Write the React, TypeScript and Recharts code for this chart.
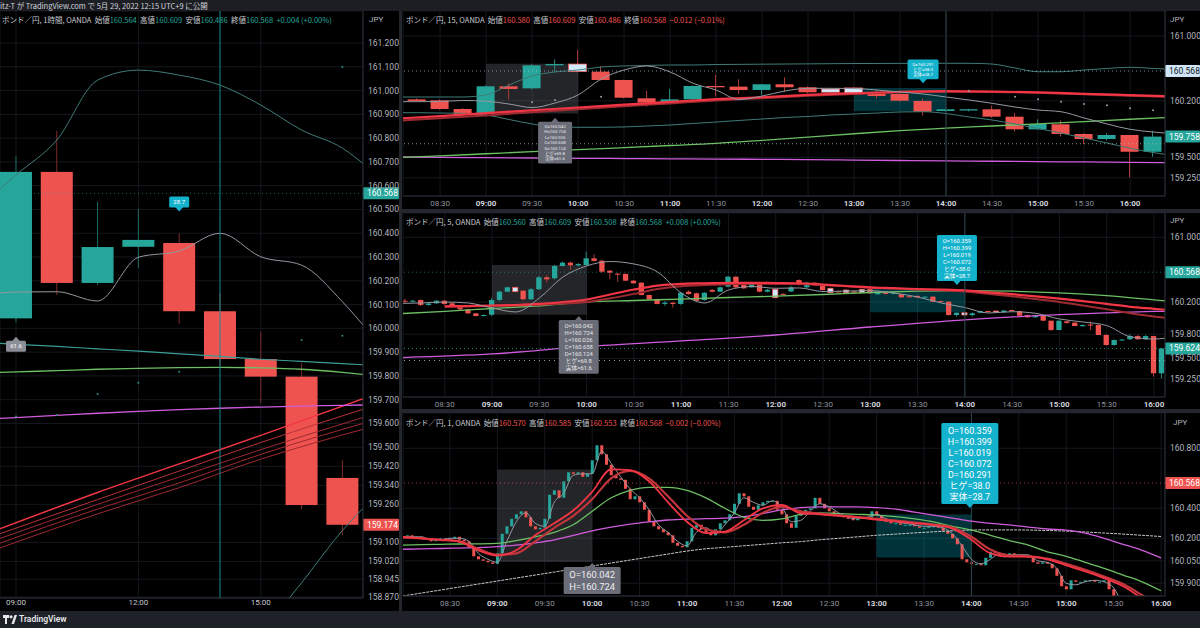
import React from 'react';
import {
  ComposedChart, Bar, Line, Scatter, XAxis, YAxis, CartesianGrid,
  ReferenceLine, ReferenceArea, ReferenceDot,
} from 'recharts';

const FONT = 'Roboto, "Noto Sans", "Noto Sans CJK JP", sans-serif';
const JFONT = '"Noto Sans CJK JP", Roboto, sans-serif';
const TEAL = '#26a69a';
const RED = '#ef5350';
const LIGHT = '#d4e9fb';
const GRID = '#14171d';
const AXIS = '#2a2e39';
const TXT = '#b2b5be';
const GRAYLINE = '#9598a1';
const BAND = '#3f7c77';
const GREEN = '#6cbf63';
const MAGENTA = '#cf5cdc';
const EMARED = '#f23645';
const EMARED2 = '#9e2a31';

const toMin = (s: string) => { const [h, m] = s.split(':').map(Number); return h * 60 + m; };
const seq = (start: string, step: number, n: number) => Array.from({ length: n }, (_, i) => toMin(start) + i * step);
const fmtMin = (m: number) => `${String(Math.floor(m / 60)).padStart(2, '0')}:${String(Math.round(m % 60)).padStart(2, '0')}`;

// ================= LEFT PANEL : 1 hour =================
const hourL = [9, 10, 11, 12, 13, 14, 15, 16, 17];
const openL = [160.042, 160.658, 160.191, 160.343, 160.359, 160.072, 159.871, 159.797, 159.371];
const highL = [160.724, 160.83, 160.533, 160.502, 160.399, 160.147, 159.986, 159.856, 159.446];
const lowL = [160.026, 160.14, 160.182, 160.254, 160.019, 159.839, 159.685, 159.24, 159.131];
const closeL = [160.658, 160.191, 160.342, 160.372, 160.072, 159.871, 159.797, 159.257, 159.174];

const lineHL = [8.5, 9, 10, 11, 12, 13, 14, 15, 16, 17, 17.6];
const grayL = [160.147, 160.153, 160.154, 160.115, 160.299, 160.325, 160.4, 160.301, 160.266, 160.112, 159.995];
const upperL = [160.57, 160.645, 160.792, 161.044, 161.086, 161.065, 161.023, 160.939, 160.834, 160.758, 160.68];
const emaL = [159.938, 159.933, 159.924, 159.914, 159.904, 159.893, 159.882, 159.87, 159.861, 159.852, 159.846];
const greenL = [159.814, 159.817, 159.822, 159.828, 159.832, 159.835, 159.836, 159.834, 159.828, 159.815, 159.805];
const magentaL = [159.62, 159.625, 159.634, 159.643, 159.651, 159.658, 159.664, 159.669, 159.673, 159.676, 159.678];
const lowerHL = [15, 16, 17, 17.6];
const lowerL = [158.72, 158.93, 159.15, 159.26];
const fanHL = [8.5, 11, 13, 15, 17.6];
const fan1 = [159.15, 159.31, 159.43, 159.55, 159.71];
const fan2 = [159.13, 159.28, 159.4, 159.52, 159.665];
const fan3 = [159.11, 159.26, 159.375, 159.49, 159.63];
const fan4 = [159.09, 159.24, 159.35, 159.47, 159.605];
const fan5 = [159.07, 159.22, 159.33, 159.45, 159.58];
const dotHL = [9, 10, 11, 12, 13, 16, 17, 17];
const dotPL = [159.629, 159.636, 159.724, 159.771, 159.818, 159.951, 159.969, 161.099];
const ticksL = [161.2, 161.1, 161.0, 160.9, 160.8, 160.7, 160.6, 160.5, 160.4, 160.3, 160.2, 160.1, 160.0, 159.9, 159.8, 159.7, 159.6, 159.5, 159.42, 159.34, 159.26, 159.1, 159.02, 158.945, 158.87];
const timeTicksL = [9, 12, 15];

// ================= PANEL A : 15 min =================
const tA = seq('08:15', 15, 33);
const openA = [160.218, 160.206, 160.099, 160.041, 160.379, 160.354, 160.638, 160.654, 160.56, 160.457, 160.231, 160.177, 160.218, 160.383, 160.375, 160.333, 160.404, 160.367, 160.346, 160.359, 160.3, 160.284, 160.198, 160.074, 160.08, 160.095, 160.004, 159.848, 159.91, 159.79, 159.728, 159.778, 159.571];
const highA = [160.23, 160.22, 160.11, 160.39, 160.416, 160.65, 160.712, 160.827, 160.63, 160.46, 160.325, 160.346, 160.39, 160.519, 160.465, 160.41, 160.49, 160.38, 160.36, 160.37, 160.34, 160.29, 160.23, 160.1, 160.1, 160.14, 160.05, 159.97, 159.96, 159.8, 159.8, 159.78, 159.83];
const lowA = [160.19, 160.09, 160.01, 160.03, 160.218, 160.34, 160.559, 160.55, 160.45, 160.23, 160.127, 160.17, 160.21, 160.251, 160.284, 160.27, 160.312, 160.29, 160.3, 160.28, 160.23, 160.19, 160.019, 160.06, 160.07, 159.99, 159.82, 159.84, 159.76, 159.667, 159.71, 159.256, 159.51];
const closeA = [160.197, 160.099, 160.037, 160.379, 160.346, 160.638, 160.654, 160.56, 160.457, 160.238, 160.177, 160.218, 160.383, 160.367, 160.333, 160.404, 160.367, 160.305, 160.305, 160.293, 160.259, 160.201, 160.065, 160.095, 160.096, 160.004, 159.848, 159.914, 159.79, 159.728, 159.778, 159.571, 159.758];
const lightA = [7, 18, 19];
const t15A = seq('08:00', 15, 35);
const grayA = [160.189, 160.189, 160.191, 160.204, 160.195, 160.16, 160.117, 160.173, 160.272, 160.469, 160.58, 160.63, 160.556, 160.416, 160.333, 160.216, 160.259, 160.321, 160.354, 160.354, 160.352, 160.333, 160.309, 160.284, 160.247, 160.21, 160.169, 160.123, 160.086, 160.065, 159.988, 159.914, 159.848, 159.815, 159.79];
const upperA = [160.247, 160.247, 160.247, 160.247, 160.272, 160.395, 160.506, 160.556, 160.58, 160.617, 160.63, 160.636, 160.642, 160.642, 160.648, 160.65, 160.652, 160.654, 160.656, 160.658, 160.66, 160.661, 160.662, 160.663, 160.663, 160.663, 160.654, 160.605, 160.559, 160.559, 160.58, 160.599, 160.614, 160.6, 160.586];
const lowerA = [160.053, 160.053, 160.049, 160.046, 160.025, 159.969, 159.914, 159.877, 159.873, 159.873, 159.877, 159.889, 159.901, 159.92, 159.938, 159.957, 159.975, 159.994, 160.006, 160.025, 160.037, 160.049, 160.062, 160.065, 160.043, 160.0, 159.963, 159.914, 159.858, 159.802, 159.741, 159.679, 159.614, 159.562, 159.519];
const t30A = seq('08:00', 30, 18);
const redA = [159.978, 160.012, 160.047, 160.083, 160.117, 160.152, 160.186, 160.22, 160.244, 160.273, 160.293, 160.312, 160.319, 160.315, 160.304, 160.286, 160.27, 160.254];
const redA2 = [159.95, 159.985, 160.02, 160.058, 160.095, 160.132, 160.168, 160.205, 160.232, 160.262, 160.284, 160.305, 160.313, 160.31, 160.298, 160.28, 160.263, 160.246];
const greenA = [159.496, 159.52, 159.546, 159.572, 159.596, 159.622, 159.648, 159.674, 159.712, 159.752, 159.793, 159.832, 159.862, 159.889, 159.916, 159.944, 159.972, 159.998];
const magentaA = [159.507, 159.502, 159.498, 159.494, 159.49, 159.487, 159.484, 159.481, 159.477, 159.473, 159.468, 159.463, 159.458, 159.454, 159.449, 159.445, 159.44, 159.436];
const dotTA = ['09:30', '09:45', '10:15', '14:15', '14:45', '15:00', '15:15', '15:30', '15:45', '16:00', '16:15'];
const dotPA = [160.181, 160.21, 160.25, 160.325, 160.251, 160.219, 160.189, 160.16, 160.144, 160.107, 160.083];
const ticksA = [161.0, 160.2, 159.5, 159.25];

// ================= PANEL B : 5 min =================
const tB = seq('08:05', 5, 97);
const openB = [160.215, 160.205, 160.224, 160.162, 160.183, 160.215, 160.183, 160.15, 160.109, 160.059, 160.026, 160.042, 160.224, 160.327, 160.381, 160.339, 160.233, 160.357, 160.505, 160.493, 160.645, 160.686, 160.654, 160.657, 160.74, 160.71, 160.587, 160.55, 160.546, 160.463, 160.438, 160.286, 160.233, 160.175, 160.19, 160.175, 160.327, 160.307, 160.224, 160.348, 160.327, 160.389, 160.512, 160.41, 160.381, 160.438, 160.327, 160.357, 160.3, 160.33, 160.47, 160.381, 160.438, 160.397, 160.369, 160.33, 160.348, 160.33, 160.357, 160.359, 160.295, 160.32, 160.3, 160.295, 160.27, 160.275, 160.26, 160.265, 160.21, 160.203, 160.038, 160.067, 160.038, 160.067, 160.088, 160.088, 160.075, 160.1, 160.088, 160.038, 160.01, 160.026, 159.968, 159.853, 159.96, 159.943, 159.9, 159.92, 159.915, 159.791, 159.667, 159.729, 159.738, 159.778, 159.738, 159.778, 159.317];
const highB = [160.24, 160.225, 160.23, 160.19, 160.22, 160.225, 160.19, 160.16, 160.115, 160.065, 160.045, 160.25, 160.34, 160.39, 160.39, 160.35, 160.37, 160.52, 160.53, 160.66, 160.7, 160.7, 160.68, 160.822, 160.79, 160.72, 160.595, 160.56, 160.555, 160.47, 160.445, 160.29, 160.24, 160.21, 160.2, 160.32, 160.345, 160.315, 160.32, 160.36, 160.39, 160.52, 160.52, 160.42, 160.44, 160.445, 160.36, 160.37, 160.31, 160.4, 160.48, 160.45, 160.445, 160.4, 160.375, 160.34, 160.355, 160.34, 160.36, 160.375, 160.33, 160.325, 160.32, 160.3, 160.275, 160.28, 160.27, 160.27, 160.22, 160.21, 160.07, 160.07, 160.07, 160.09, 160.09, 160.09, 160.1, 160.105, 160.09, 160.04, 160.04, 160.03, 159.97, 159.97, 159.965, 159.95, 159.92, 159.96, 159.92, 159.8, 159.735, 159.74, 159.8, 159.79, 159.79, 159.78, 159.63];
const lowB = [160.19, 160.195, 160.15, 160.155, 160.175, 160.165, 160.14, 160.1, 160.05, 160.02, 160.02, 160.026, 160.21, 160.32, 160.32, 160.22, 160.225, 160.35, 160.44, 160.48, 160.64, 160.6, 160.64, 160.65, 160.7, 160.56, 160.48, 160.45, 160.46, 160.425, 160.28, 160.225, 160.17, 160.15, 160.13, 160.165, 160.29, 160.21, 160.215, 160.32, 160.32, 160.38, 160.37, 160.36, 160.375, 160.32, 160.32, 160.245, 160.28, 160.32, 160.4, 160.37, 160.4, 160.34, 160.31, 160.32, 160.31, 160.31, 160.31, 160.3, 160.29, 160.29, 160.295, 160.25, 160.255, 160.25, 160.25, 160.2, 160.2, 160.03, 160.019, 160.03, 160.02, 160.06, 160.07, 160.07, 160.07, 160.085, 160.025, 160.005, 160.005, 159.96, 159.84, 159.85, 159.93, 159.9, 159.895, 159.85, 159.79, 159.66, 159.66, 159.72, 159.73, 159.73, 159.73, 159.275, 159.255];
const closeB = [160.205, 160.215, 160.162, 160.18, 160.215, 160.174, 160.15, 160.109, 160.059, 160.026, 160.038, 160.224, 160.327, 160.381, 160.327, 160.233, 160.357, 160.505, 160.48, 160.645, 160.686, 160.654, 160.67, 160.74, 160.707, 160.574, 160.562, 160.545, 160.463, 160.431, 160.286, 160.233, 160.175, 160.19, 160.175, 160.314, 160.298, 160.215, 160.314, 160.327, 160.381, 160.512, 160.381, 160.369, 160.431, 160.327, 160.35, 160.252, 160.29, 160.38, 160.41, 160.438, 160.406, 160.348, 160.314, 160.325, 160.314, 160.315, 160.314, 160.307, 160.327, 160.3, 160.315, 160.257, 160.26, 160.257, 160.265, 160.203, 160.205, 160.038, 160.067, 160.038, 160.059, 160.088, 160.075, 160.075, 160.093, 160.09, 160.03, 160.01, 160.035, 159.968, 159.853, 159.968, 159.94, 159.902, 159.915, 159.91, 159.791, 159.667, 159.729, 159.735, 159.778, 159.738, 159.778, 159.317, 159.624];
const lightB = [14, 47, 54, 56, 58, 71, 75];
const t15B = seq('08:00', 15, 34);
const grayB = [160.181, 160.187, 160.199, 160.187, 160.125, 160.076, 160.249, 160.509, 160.645, 160.7, 160.67, 160.571, 160.311, 160.187, 160.348, 160.391, 160.369, 160.373, 160.329, 160.335, 160.339, 160.311, 160.261, 160.187, 160.131, 160.063, 160.079, 160.059, 159.989, 159.952, 159.908, 159.77, 159.741, 159.778];
const tRedB = seq('08:30', 15, 32);
const redB = [160.144, 160.15, 160.156, 160.162, 160.175, 160.199, 160.23, 160.292, 160.354, 160.403, 160.424, 160.431, 160.437, 160.437, 160.434, 160.431, 160.415, 160.397, 160.38, 160.37, 160.36, 160.353, 160.342, 160.318, 160.296, 160.27, 160.24, 160.21, 160.175, 160.14, 160.115, 160.09];
const redB2 = [160.14, 160.145, 160.15, 160.155, 160.165, 160.18, 160.2, 160.245, 160.3, 160.36, 160.395, 160.41, 160.42, 160.425, 160.425, 160.422, 160.41, 160.393, 160.377, 160.366, 160.355, 160.345, 160.33, 160.3, 160.27, 160.235, 160.2, 160.155, 160.11, 160.06, 160.02, 159.985];
const t30B = seq('08:00', 30, 18);
const greenB = [160.053, 160.084, 160.119, 160.153, 160.199, 160.218, 160.236, 160.255, 160.271, 160.292, 160.317, 160.333, 160.34, 160.333, 160.313, 160.278, 160.226, 160.17];
const t60B = seq('08:00', 60, 10);
const magentaB = [159.51, 159.556, 159.649, 159.717, 159.791, 159.89, 159.979, 160.042, 160.082, 160.1];
const ticksB = [161.0, 160.2, 159.8, 159.5, 159.25];

// ================= PANEL C : 1 min (read every 3 min) =================
const tC = seq('08:00', 3, 161);
const firstOpenC = 160.21;
const closeC = [
  160.21, 160.22, 160.2, 160.21, 160.2, 160.19, 160.18, 160.19, 160.2, 160.19, 160.2, 160.21, 160.19, 160.18, 160.14, 160.08, 160.06, 160.05, 160.04, 160.03,
  160.1, 160.23, 160.28, 160.33, 160.36, 160.38, 160.34, 160.28, 160.26, 160.27, 160.33, 160.49, 160.52, 160.47, 160.58, 160.64, 160.63, 160.64, 160.61, 160.63,
  160.72, 160.82, 160.76, 160.69, 160.62, 160.6, 160.59, 160.53, 160.46, 160.48, 160.44, 160.39, 160.31, 160.28, 160.26, 160.24, 160.22, 160.17, 160.15, 160.14,
  160.18, 160.27, 160.29, 160.26, 160.24, 160.22, 160.26, 160.3, 160.32, 160.36, 160.43, 160.5, 160.48, 160.41, 160.39, 160.42, 160.44, 160.45, 160.45, 160.39,
  160.36, 160.3, 160.27, 160.35, 160.37, 160.39, 160.4, 160.47, 160.43, 160.4, 160.38, 160.36, 160.35, 160.34, 160.33, 160.32, 160.33, 160.34, 160.34, 160.38,
  160.35, 160.33, 160.31, 160.3, 160.3, 160.29, 160.29, 160.29, 160.28, 160.27, 160.27, 160.28, 160.28, 160.27, 160.25, 160.23, 160.2, 160.16, 160.06, 160.04,
  160.03, 160.03, 160.02, 160.07, 160.11, 160.1, 160.08, 160.08, 160.1, 160.09, 160.09, 160.08, 160.08, 160.04, 160.03, 160.04, 160.03, 160.0, 159.95, 159.88,
  159.86, 159.92, 159.91, 159.91, 159.92, 159.92, 159.91, 159.91, 159.92, 159.86, 159.8, 159.7, 159.68, 159.73, 159.74, 159.76, 159.78, 159.75, 159.76, 159.7,
  159.45,
];
const t6C = seq('08:00', 6, 81);
const grayC = [
  160.21, 160.21, 160.21, 160.19, 160.19, 160.2, 160.2, 160.18, 160.1, 160.06,
  160.04, 160.18, 160.31, 160.37, 160.3, 160.28, 160.44, 160.5, 160.62, 160.63,
  160.63, 160.78, 160.7, 160.61, 160.53, 160.47, 160.39, 160.29, 160.24, 160.18,
  160.15, 160.24, 160.27, 160.23, 160.29, 160.37, 160.47, 160.44, 160.42, 160.45,
  160.41, 160.31, 160.32, 160.38, 160.43, 160.41, 160.37, 160.34, 160.33, 160.34,
  160.36, 160.33, 160.31, 160.3, 160.29, 160.28, 160.28, 160.27, 160.23, 160.15,
  160.06, 160.03, 160.06, 160.1, 160.09, 160.09, 160.09, 160.05, 160.04, 160.0,
  159.9, 159.89, 159.91, 159.92, 159.91, 159.87, 159.76, 159.72, 159.76, 159.77,
  159.7,
];
const t12C = seq('08:00', 12, 41);
const redC = [160.21, 160.2, 160.19, 160.177, 160.12, 160.085, 160.12, 160.22, 160.3, 160.385, 160.51, 160.66, 160.655, 160.58, 160.44, 160.31, 160.235, 160.245, 160.32, 160.4, 160.422, 160.367, 160.36, 160.35, 160.34, 160.325, 160.313, 160.3, 160.288, 160.265, 160.19, 160.1, 160.078, 160.078, 160.06, 160.02, 159.98, 159.935, 159.88, 159.8, 159.72];
const redC2 = [160.205, 160.2, 160.19, 160.18, 160.13, 160.09, 160.1, 160.18, 160.27, 160.35, 160.46, 160.6, 160.65, 160.6, 160.48, 160.35, 160.26, 160.24, 160.29, 160.37, 160.41, 160.38, 160.365, 160.352, 160.342, 160.33, 160.318, 160.305, 160.292, 160.272, 160.21, 160.125, 160.085, 160.08, 160.065, 160.03, 159.99, 159.945, 159.895, 159.82, 159.74];
const greenC = [160.155, 160.158, 160.16, 160.162, 160.163, 160.166, 160.185, 160.21, 160.24, 160.29, 160.38, 160.47, 160.52, 160.54, 160.54, 160.52, 160.47, 160.4, 160.34, 160.32, 160.33, 160.36, 160.37, 160.365, 160.36, 160.355, 160.345, 160.33, 160.31, 160.28, 160.255, 160.22, 160.185, 160.155, 160.11, 160.08, 160.04, 160.0, 159.955, 159.91, 159.85];
const magentaC = [160.127, 160.13, 160.132, 160.135, 160.138, 160.144, 160.155, 160.17, 160.19, 160.22, 160.25, 160.275, 160.295, 160.31, 160.322, 160.328, 160.331, 160.334, 160.345, 160.365, 160.39, 160.405, 160.41, 160.41, 160.41, 160.405, 160.395, 160.375, 160.355, 160.335, 160.315, 160.3, 160.29, 160.275, 160.262, 160.255, 160.235, 160.2, 160.16, 160.12, 160.07];
const slowC = [159.815, 159.835, 159.855, 159.875, 159.895, 159.915, 159.935, 159.955, 159.975, 159.995, 160.015, 160.035, 160.055, 160.075, 160.095, 160.115, 160.13, 160.14, 160.15, 160.16, 160.17, 160.178, 160.19, 160.2, 160.21, 160.22, 160.228, 160.236, 160.243, 160.25, 160.255, 160.256, 160.256, 160.255, 160.252, 160.248, 160.242, 160.235, 160.228, 160.22, 160.212];
const ticksC = [160.8, 160.4, 160.2, 160.05, 159.9];
const timeTicksR = seq('08:30', 30, 16);

// ===== annotation texts =====
const noteH9 = ['O=160.042', 'H=160.724', 'L=160.026', 'C=160.658', 'D=160.124', 'ヒゲ=69.8', '実体=61.6'];
const noteH13 = ['O=160.359', 'H=160.399', 'L=160.019', 'C=160.072', 'D=160.291', 'ヒゲ=38.0', '実体=28.7'];

// ================= helpers =================
const candles = (t: number[], o: number[], h: number[], l: number[], c: number[], light: number[] = []) =>
  t.map((x, i) => ({ t: x, o: o[i], h: h[i], l: l[i], c: c[i], light: light.includes(i), rng: [l[i], h[i]] }));

const dataL = candles(hourL, openL, highL, lowL, closeL);
const dataA = candles(tA, openA, highA, lowA, closeA, lightA);
const dataB = candles(tB, openB, highB, lowB, closeB, lightB);
const openC = closeC.map((_, i) => (i === 0 ? firstOpenC : closeC[i - 1]));
const dataC = tC.map((x, i) => {
  const hi = Math.max(openC[i], closeC[i]);
  const lo = Math.min(openC[i], closeC[i]);
  return { t: x, o: openC[i], c: closeC[i], h: hi, l: lo, light: false, rng: [lo, hi] };
});

const candleShape = (bodyW: number, wickUp: string, wickDn: string, wick = true) => (p: any) => {
  const { x, y, width, height, payload } = p;
  if (!payload || x == null || y == null) return <g />;
  const top = Math.min(y, y + (height || 0));
  const hh = Math.abs(height || 0);
  const span = payload.h - payload.l;
  const py = (v: number) => (span > 0 ? top + ((payload.h - v) / span) * hh : top);
  const up = payload.c >= payload.o;
  const cx = x + (width || 0) / 2;
  const y1 = py(Math.max(payload.o, payload.c));
  const y2 = py(Math.min(payload.o, payload.c));
  const fill = payload.light ? LIGHT : up ? TEAL : RED;
  return (
    <g>
      {wick && <line x1={cx} x2={cx} y1={top} y2={top + hh} stroke={up ? wickUp : wickDn} strokeWidth={1} />}
      <rect x={cx - bodyW / 2} y={y1} width={bodyW} height={Math.max(1, y2 - y1)} fill={fill}
        stroke={payload.light ? RED : 'none'} strokeWidth={payload.light ? 0.7 : 0} />
    </g>
  );
};

const pts = (t: number[], v: number[], key: string) => t.map((x, i) => ({ t: x, [key]: v[i] }));
const mkLine = (key: string, t: number[], v: number[], stroke: string, w = 1, extra: any = {}) => (
  <Line key={key} data={pts(t, v, key)} dataKey={key} type="monotone" stroke={stroke} strokeWidth={w}
    dot={false} activeDot={false} isAnimationActive={false} {...extra} />
);

const note = (lines: string[], o: { w: number; lh: number; fs: number; bg: string; fg: string; below: boolean }) => (p: any) => {
  const { cx, cy } = p;
  const ph = 4;
  const h = lines.length * o.lh + 4;
  const bx = cx - o.w / 2;
  const by = o.below ? cy + ph : cy - ph - h;
  const tri = o.below
    ? `${cx - 4},${cy + ph + 0.5} ${cx + 4},${cy + ph + 0.5} ${cx},${cy}`
    : `${cx - 4},${cy - ph - 0.5} ${cx + 4},${cy - ph - 0.5} ${cx},${cy}`;
  return (
    <g>
      <polygon points={tri} fill={o.bg} />
      <rect x={bx} y={by} width={o.w} height={h} rx={1.5} fill={o.bg} />
      {lines.map((s, i) => (
        <text key={i} x={cx} y={by + 2 + o.lh * (i + 0.5)} dy={o.fs * 0.36} textAnchor="middle"
          fontSize={o.fs} fill={o.fg} fontFamily={FONT}>{s}</text>
      ))}
    </g>
  );
};

const tag = (text: string, bg: string, fg: string, w = 36) => (p: any) => {
  const vb = p.viewBox || {};
  const x = (vb.x ?? 0) + (vb.width ?? 0);
  const y = vb.y ?? 0;
  return (
    <g>
      <rect x={x} y={y - 6} width={w} height={12} fill={bg} rx={1} />
      <text x={x + 4} y={y} dy={3} fontSize={8.5} fill={fg} fontFamily={FONT}>{text}</text>
    </g>
  );
};

const yTick = (p: any) => (
  <text x={p.x + 5} y={p.y} dy={3} fontSize={8.5} fill={TXT} fontFamily={FONT}>
    {Number(p.payload.value).toFixed(3)}
  </text>
);

const xTickR = (dy: number) => (p: any) => {
  const v = p.payload.value;
  const bold = v % 60 === 0;
  return (
    <text x={p.x} y={p.y} dy={dy} textAnchor="middle" fontSize={8} fontWeight={bold ? 700 : 400}
      fill={bold ? '#d1d4dc' : '#8f939d'} fontFamily={FONT}>{fmtMin(v)}</text>
  );
};
const xTickL = (p: any) => (
  <text x={p.x} y={p.y} dy={7} textAnchor="middle" fontSize={8} fill="#c4c7ce" fontFamily={FONT}>
    {`${String(p.payload.value).padStart(2, '0')}:00`}
  </text>
);

const dotShape = (color: string) => (p: any) => <circle cx={p.cx} cy={p.cy} r={1} fill={color} />;

// ================= header =================
const Header = ({ left, top, name, vals, change, color }: any) => (
  <div style={{ position: 'absolute', left, top, fontSize: 7.5, lineHeight: '10px', color: '#c9ccd3', whiteSpace: 'nowrap', fontFamily: JFONT }}>
    {name}&nbsp;&nbsp;始値<span style={{ color }}>{vals[0]}</span>&nbsp;&nbsp;高値<span style={{ color }}>{vals[1]}</span>&nbsp;&nbsp;安値<span style={{ color }}>{vals[2]}</span>&nbsp;&nbsp;終値<span style={{ color }}>{vals[3]}</span>&nbsp;&nbsp;<span style={{ color }}>{change}</span>
  </div>
);
const Jpy = ({ left, top }: any) => (
  <div style={{ position: 'absolute', left, top, fontSize: 8, lineHeight: '10px', color: TXT, fontFamily: FONT }}>JPY</div>
);

const panelStyle = (left: number, top: number, w: number, h: number): React.CSSProperties => ({
  position: 'absolute', left, top, width: w, height: h, background: '#000', overflow: 'hidden',
});

export default function App() {
  return (
    <div style={{ position: 'absolute', left: 0, top: 0, width: 1200, height: 628, background: '#23262d', overflow: 'hidden' }}>
      {/* top bar */}
      <div style={{ position: 'absolute', left: 0, top: 0, width: 1200, height: 11, background: '#1c1e23', color: '#d1d4dc', fontSize: 7.5, lineHeight: '11px', fontFamily: JFONT, whiteSpace: 'nowrap' }}>
        itz-T が TradingView.com で 5月 29, 2022 12:15 UTC+9 に公開
      </div>

      {/* ===== LEFT 1H ===== */}
      <div style={panelStyle(0, 11, 399, 600)}>
        <ComposedChart width={399} height={600} data={dataL} margin={{ top: 0, right: 0, bottom: 0, left: 0 }}>
          <CartesianGrid stroke={GRID} strokeWidth={1} />
          <XAxis dataKey="t" type="number" domain={[8.608, 17.505]} allowDataOverflow ticks={timeTicksL} interval={0}
            height={13} tickSize={0} tickMargin={0} tick={xTickL} stroke={AXIS} />
          <YAxis type="number" orientation="right" domain={[158.8661, 161.3346]} allowDataOverflow ticks={ticksL} interval={0}
            width={36} tickSize={0} tickMargin={0} tick={yTick} stroke={AXIS} />
          {mkLine('fan5', fanHL, fan5, EMARED2, 1)}
          {mkLine('fan4', fanHL, fan4, EMARED2, 1)}
          {mkLine('fan3', fanHL, fan3, EMARED2, 1)}
          {mkLine('fan2', fanHL, fan2, '#b8323a', 1)}
          {mkLine('fan1', fanHL, fan1, EMARED, 1.5)}
          {mkLine('magL', lineHL, magentaL, MAGENTA, 1.3)}
          {mkLine('greenL', lineHL, greenL, GREEN, 1.3)}
          {mkLine('emaL', lineHL, emaL, '#3b9e96', 1.2)}
          {mkLine('upperL', lineHL, upperL, BAND, 1)}
          {mkLine('lowerL', lowerHL, lowerL, BAND, 1)}
          {mkLine('grayL', lineHL, grayL, GRAYLINE, 1)}
          <ReferenceLine x={14} stroke="#1a8a93" strokeWidth={1} />
          <ReferenceLine y={160.568} stroke={TEAL} strokeOpacity={0.6} strokeDasharray="1 3" label={tag('160.568', TEAL, '#ffffff')} />
          <ReferenceLine y={159.174} stroke={RED} strokeOpacity={0} label={tag('159.174', RED, '#ffffff')} />
          <Bar dataKey="rng" barSize={32} isAnimationActive={false} shape={candleShape(32, '#1d6b63', '#7d2b2b')} />
          <Scatter data={pts(dotHL, dotPL, 'dpL')} dataKey="dpL" isAnimationActive={false} shape={dotShape('#2e8b80')} />
          <ReferenceDot x={9} y={159.965} r={0} shape={note(['61.6'], { w: 20, lh: 7, fs: 6, bg: '#8b8e97', fg: '#ffffff', below: true })} />
          <ReferenceDot x={13} y={160.491} r={0} shape={note(['28.7'], { w: 20, lh: 7, fs: 6, bg: '#14b2cc', fg: '#ffffff', below: false })} />
        </ComposedChart>
        <Header left={2} top={4} name="ポンド／円, 1時間, OANDA" vals={['160.564', '160.609', '160.486', '160.568']} change="+0.004 (+0.00%)" color={TEAL} />
        <Jpy left={369} top={4} />
      </div>

      {/* ===== PANEL A 15m ===== */}
      <div style={panelStyle(402, 11, 798, 198)}>
        <ComposedChart width={798} height={198} data={dataA} margin={{ top: 0, right: 0, bottom: 0, left: 1 }}>
          <CartesianGrid stroke={GRID} strokeWidth={1} />
          <XAxis dataKey="t" type="number" domain={[485.8, 982.8]} allowDataOverflow ticks={timeTicksR} interval={0}
            height={13} tickSize={0} tickMargin={0} tick={xTickR(10)} stroke={AXIS} />
          <YAxis type="number" orientation="right" domain={[159.0247, 161.3086]} allowDataOverflow ticks={ticksA} interval={0}
            width={35} tickSize={0} tickMargin={0} tick={yTick} stroke={AXIS} />
          <ReferenceArea x1={540} x2={600} y1={160.042} y2={160.658} fill="#787b86" fillOpacity={0.3} stroke="none" />
          <ReferenceArea x1={780} x2={840} y1={160.072} y2={160.359} fill="#00bcd4" fillOpacity={0.27} stroke="none" />
          {mkLine('magA', t30A, magentaA, MAGENTA, 1.3)}
          {mkLine('greenA', t30A, greenA, GREEN, 1.3)}
          {mkLine('lowerA', t15A, lowerA, BAND, 1)}
          {mkLine('upperA', t15A, upperA, BAND, 1)}
          {mkLine('redA2', t30A, redA2, EMARED2, 2)}
          {mkLine('redA', t30A, redA, EMARED, 2.2)}
          {mkLine('grayA', t15A, grayA, GRAYLINE, 1)}
          <ReferenceLine x={840} stroke="#2c464b" strokeWidth={1} />
          <ReferenceLine y={159.67} stroke="#8fb7b2" strokeOpacity={0.8} strokeDasharray="1 3" />
          <ReferenceLine y={160.568} stroke="#a9c5dd" strokeOpacity={0.7} strokeDasharray="1 3" label={tag('160.568', '#cfe6f8', '#131722', 35)} />
          <ReferenceLine y={159.758} stroke={TEAL} strokeOpacity={0} label={tag('159.758', TEAL, '#ffffff', 35)} />
          <Bar dataKey="rng" barSize={18} isAnimationActive={false} shape={candleShape(18, '#2b8a80', '#b03b39')} />
          <Scatter data={pts(dotTA.map(toMin), dotPA, 'dpA')} dataKey="dpA" isAnimationActive={false} shape={dotShape('#9aa0a8')} />
          <ReferenceDot x={585} y={159.99} r={0} shape={note(noteH9, { w: 34, lh: 5.4, fs: 4.4, bg: '#6a6d78', fg: '#e6e7ea', below: true })} />
          <ReferenceDot x={825} y={160.416} r={0} shape={note(noteH13.slice(4), { w: 31, lh: 5.3, fs: 4.4, bg: '#14b2cc', fg: '#ffffff', below: false })} />
        </ComposedChart>
        <Header left={4} top={4} name="ポンド／円, 15, OANDA" vals={['160.580', '160.609', '160.486', '160.568']} change="−0.012 (−0.01%)" color={RED} />
        <Jpy left={768} top={4} />
      </div>

      {/* ===== PANEL B 5m ===== */}
      <div style={panelStyle(402, 213, 798, 196)}>
        <ComposedChart width={798} height={196} data={dataB} margin={{ top: 0, right: 0, bottom: 0, left: 1 }}>
          <CartesianGrid stroke={GRID} strokeWidth={1} />
          <XAxis dataKey="t" type="number" domain={[483.5, 967.0]} allowDataOverflow ticks={timeTicksR} interval={0}
            height={12} tickSize={0} tickMargin={0} tick={xTickR(10)} stroke={AXIS} />
          <YAxis type="number" orientation="right" domain={[159.0235, 161.3007]} allowDataOverflow ticks={ticksB} interval={0}
            width={35} tickSize={0} tickMargin={0} tick={yTick} stroke={AXIS} />
          <ReferenceArea x1={540} x2={600} y1={160.042} y2={160.658} fill="#787b86" fillOpacity={0.3} stroke="none" />
          <ReferenceArea x1={780} x2={840} y1={160.072} y2={160.359} fill="#00bcd4" fillOpacity={0.27} stroke="none" />
          {mkLine('magB', t60B, magentaB, MAGENTA, 1.3)}
          {mkLine('greenB', t30B, greenB, GREEN, 1.3)}
          {mkLine('redB2', tRedB, redB2, EMARED2, 2)}
          {mkLine('redB', tRedB, redB, EMARED, 2.2)}
          {mkLine('grayB', t15B, grayB, GRAYLINE, 1)}
          <ReferenceLine x={840} stroke="#2c464b" strokeWidth={1} />
          <ReferenceLine y={159.475} stroke="#c8c8c8" strokeOpacity={0.8} strokeDasharray="1 4" />
          <ReferenceLine y={160.568} stroke={TEAL} strokeOpacity={0.6} strokeDasharray="1 3" label={tag('160.568', TEAL, '#ffffff', 35)} />
          <ReferenceLine y={159.624} stroke={TEAL} strokeOpacity={0.8} strokeDasharray="1 3" label={tag('159.624', TEAL, '#ffffff', 35)} />
          <Bar dataKey="rng" barSize={5} isAnimationActive={false} shape={candleShape(5.3, '#2b8a80', '#b03b39')} />
          <ReferenceDot x={595} y={160.026} r={0} shape={note(noteH9, { w: 40, lh: 7.1, fs: 5.8, bg: '#6a6d78', fg: '#e6e7ea', below: true })} />
          <ReferenceDot x={835} y={160.41} r={0} shape={note([...noteH13.slice(0, 4), ...noteH13.slice(5)], { w: 40, lh: 7.0, fs: 5.8, bg: '#14b2cc', fg: '#ffffff', below: false })} />
        </ComposedChart>
        <Header left={4} top={3.5} name="ポンド／円, 5, OANDA" vals={['160.560', '160.609', '160.508', '160.568']} change="+0.008 (+0.00%)" color={TEAL} />
        <Jpy left={768} top={3} />
      </div>

      {/* ===== PANEL C 1m ===== */}
      <div style={panelStyle(402, 413, 798, 198)}>
        <ComposedChart width={798} height={198} data={dataC} margin={{ top: 0, right: 0, bottom: 0, left: 1 }}>
          <CartesianGrid stroke={GRID} strokeWidth={1} />
          <XAxis dataKey="t" type="number" domain={[480.3, 962.5]} allowDataOverflow ticks={timeTicksR} interval={0}
            height={15} tickSize={0} tickMargin={0} tick={xTickR(10)} stroke={AXIS} />
          <YAxis type="number" orientation="right" domain={[159.8153, 161.0353]} allowDataOverflow ticks={ticksC} interval={0}
            width={35} tickSize={0} tickMargin={0} tick={yTick} stroke={AXIS} />
          <ReferenceArea x1={540} x2={600} y1={160.042} y2={160.658} fill="#787b86" fillOpacity={0.3} stroke="none" />
          <ReferenceArea x1={780} x2={840} y1={160.072} y2={160.359} fill="#00bcd4" fillOpacity={0.27} stroke="none" />
          <ReferenceLine x={840} stroke="#2c464b" strokeWidth={1} />
          <ReferenceLine y={160.568} stroke={RED} strokeOpacity={0.7} strokeDasharray="1 3" label={tag('160.568', RED, '#ffffff', 35)} />
          {mkLine('slowC', t12C, slowC, '#c9c9c9', 1, { strokeDasharray: '3 1' })}
          {mkLine('magC', t12C, magentaC, MAGENTA, 1.3)}
          {mkLine('greenC', t12C, greenC, GREEN, 1.3)}
          <Bar dataKey="rng" barSize={3} isAnimationActive={false} shape={candleShape(3, TEAL, RED, false)} />
          {mkLine('grayC', t6C, grayC, GRAYLINE, 1)}
          {mkLine('redC2', t12C, redC2, '#c0353c', 2.2)}
          {mkLine('redC', t12C, redC, EMARED, 1.8)}
          <ReferenceDot x={600} y={160.035} r={0} shape={note(noteH9.slice(0, 2), { w: 57, lh: 11.5, fs: 9.4, bg: '#6a6d78', fg: '#eeeef0', below: true })} />
          <ReferenceDot x={839} y={160.402} r={0} shape={note(noteH13, { w: 57, lh: 11, fs: 9, bg: '#14b2cc', fg: '#ffffff', below: false })} />
        </ComposedChart>
        <Header left={4} top={5} name="ポンド／円, 1, OANDA" vals={['160.570', '160.585', '160.553', '160.568']} change="−0.002 (−0.00%)" color={RED} />
        <Jpy left={771} top={5} />
      </div>

      {/* bottom bar */}
      <div style={{ position: 'absolute', left: 0, top: 611, width: 1200, height: 17, background: '#1e2127' }}>
        <svg width={14} height={10} style={{ position: 'absolute', left: 3, top: 4 }}>
          <rect x={0} y={0} width={6} height={3} fill="#e6e7ea" />
          <rect x={2} y={0} width={2} height={9} fill="#e6e7ea" />
          <circle cx={8} cy={1.8} r={1.6} fill="#e6e7ea" />
          <polygon points="8.5,9 11.5,0 14,0 11,9" fill="#e6e7ea" />
        </svg>
        <div style={{ position: 'absolute', left: 19, top: 3, fontSize: 8.5, lineHeight: '11px', color: '#e6e7ea', fontFamily: FONT, fontWeight: 600 }}>TradingView</div>
      </div>
    </div>
  );
}
